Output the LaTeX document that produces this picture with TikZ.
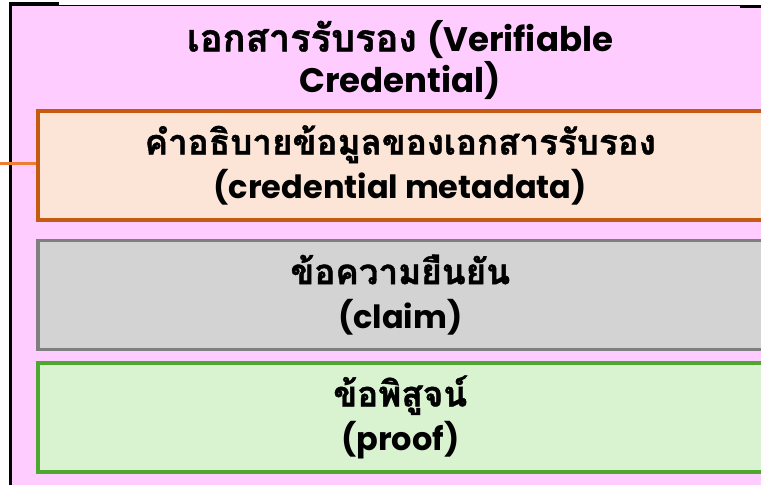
\documentclass[tikz,border=0pt]{standalone}
\usepackage{fontspec}
\newfontfamily\thaifont[Script=Thai,BoldFeatures={FakeBold=1.2}]{Loma}
\newfontfamily\latfont{Poppins}
\newcommand\ThaiB[1]{{\thaifont\fontsize{35}{42}\selectfont\bfseries #1}}
\newcommand\LatB[1]{{\latfont\fontsize{32}{42}\selectfont\bfseries #1}}
\newcommand\ThaiT[1]{{\thaifont\fontsize{38}{40}\selectfont\bfseries #1}}
\newcommand\LatT[1]{{\latfont\fontsize{34}{40}\selectfont\bfseries #1}}
\definecolor{vcpink}{HTML}{FFCCFF}
\definecolor{metafill}{HTML}{FCE4D6}
\definecolor{metaline}{HTML}{C55A11}
\definecolor{claimfill}{HTML}{D3D3D3}
\definecolor{claimline}{HTML}{7F7F7F}
\definecolor{prooffill}{HTML}{D9F2D0}
\definecolor{proofline}{HTML}{4EA72E}
\definecolor{linkorange}{HTML}{ED7D31}
\begin{document}
\begin{tikzpicture}[x=1pt,y=-1pt,
  part/.style={draw, line width=3.5pt, minimum width=725pt, minimum height=109pt,
    anchor=north west, inner sep=0pt, align=center, font=\fontsize{32}{44}\selectfont},
  ttl/.style={align=center, font=\fontsize{34}{41}\selectfont, inner sep=0pt}]
\useasboundingbox (0,0) rectangle (761,485);
\fill[white] (0,0) rectangle (761,485);
% outer frame
\node[fill=vcpink, draw=none, minimum width=750.5pt, minimum height=480pt, anchor=north west, inner sep=0pt] (vc) at (10.5,5) {};
\draw[line width=3pt] (vc.north west) -- (vc.south west);
\draw[line width=1pt] ([xshift=-1.5pt]vc.north west) -- (vc.north east);
\draw[line width=1pt, black!80] (vc.south west) -- (vc.south east);
\draw[line width=3pt] ([xshift=-1.5pt,yshift=1.5pt]vc.north west) -- ++(50,0);
\draw[line width=3pt] (740,6.5) -- (761,6.5);
% title
\node[ttl] (title) at (400,60) {\ThaiT{เอกสารรับรอง} \LatT{(Verifiable}\\\LatT{Credential)}};
% parts
\node[part, fill=metafill, draw=metaline] (meta) at (36,109)
  {\ThaiB{คำอธิบายข้อมูลของเอกสารรับรอง}\\\LatB{(credential metadata)}};
\node[part, fill=claimfill, draw=claimline] (claim) at (36,238.5)
  {\ThaiB{ข้อความยืนยัน}\\\LatB{(claim)}};
\node[part, fill=prooffill, draw=proofline] (proof) at (36,361)
  {\ThaiB{ข้อพิสูจน์}\\\LatB{(proof)}};
% connector
\coordinate (ext) at (0,163.5);
\draw[linkorange, line width=3.5pt] (ext) -- (ext -| meta.west);
\end{tikzpicture}
\end{document}
